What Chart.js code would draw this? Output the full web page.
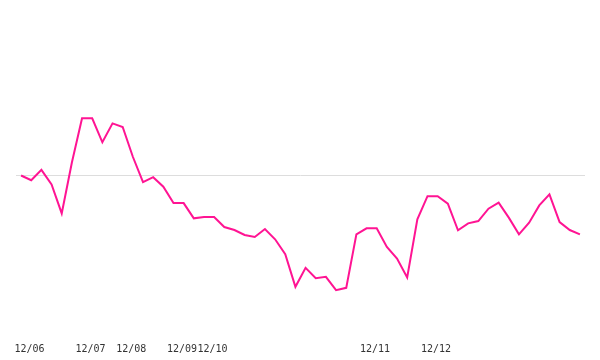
<!DOCTYPE html>
<html>
<head>
<meta charset="utf-8">
<script src="https://cdn.jsdelivr.net/npm/chart.js@4/dist/chart.umd.min.js"></script>
<style>
html,body{margin:0;padding:0;background:#fff;}
#wrap{width:600px;height:360px;position:relative;}
</style>
</head>
<body>
<div id="wrap"><canvas id="c"></canvas></div>
<script>
const tickLabels = ['12/06','','','','','','12/07','','','','12/08','','','','','12/09','','','12/10','','',
  '','','','','','','','','','','','','','12/11','','','','','','12/12','','','','','','','','','','','','','','',''];
const categories = tickLabels.map((t, i) => 'p' + i);
const seriesValues = [
  0.0, -0.47, 0.57, -0.9, -3.8, 1.3, 5.73, 5.73, 3.33, 5.23,
  4.87, 1.88, -0.67, -0.17, -1.13, -2.77, -2.77, -4.3, -4.17, -4.17,
  -5.17, -5.47, -5.97, -6.17, -5.37, -6.4, -7.9, -11.17, -9.27, -10.3,
  -10.17, -11.5, -11.27, -5.9, -5.3, -5.3, -7.17, -8.33, -10.23, -4.4,
  -2.07, -2.07, -2.83, -5.5, -4.8, -4.57, -3.33, -2.73, -4.23, -5.9,
  -4.73, -3.0, -1.9, -4.67, -5.47, -5.9
];

new Chart(document.getElementById('c'), {
  type: 'line',
  data: {
    labels: categories,
    datasets: [{
      data: seriesValues,
      borderColor: '#ff1493',
      borderWidth: 2,
      pointRadius: 0,
      tension: 0,
      fill: false
    }]
  },
  options: {
    responsive: true,
    maintainAspectRatio: false,
    animation: false,
    layout: { padding: { top: 16, left: 16, right: 15, bottom: 0 } },
    plugins: { legend: { display: false }, tooltip: { enabled: false } },
    scales: {
      x: {
        offset: true,
        grid: { display: false },
        border: { display: false },
        ticks: {
          autoSkip: false,
          maxRotation: 0,
          minRotation: 0,
          labelOffset: 8.5,
          padding: 5,
          color: '#333',
          font: { family: 'DejaVu Sans Mono', size: 10 },
          callback: (v, i) => tickLabels[i]
        }
      },
      y: {
        min: -15.5,
        max: 16,
        border: { display: false },
        grid: {
          drawTicks: false,
          color: (ctx) => (ctx.tick && ctx.tick.value === 0) ? '#dddddd' : 'rgba(0,0,0,0)',
          lineWidth: 1
        },
        ticks: { display: false, stepSize: 2 }
      }
    }
  }
});
</script>
</body>
</html>
